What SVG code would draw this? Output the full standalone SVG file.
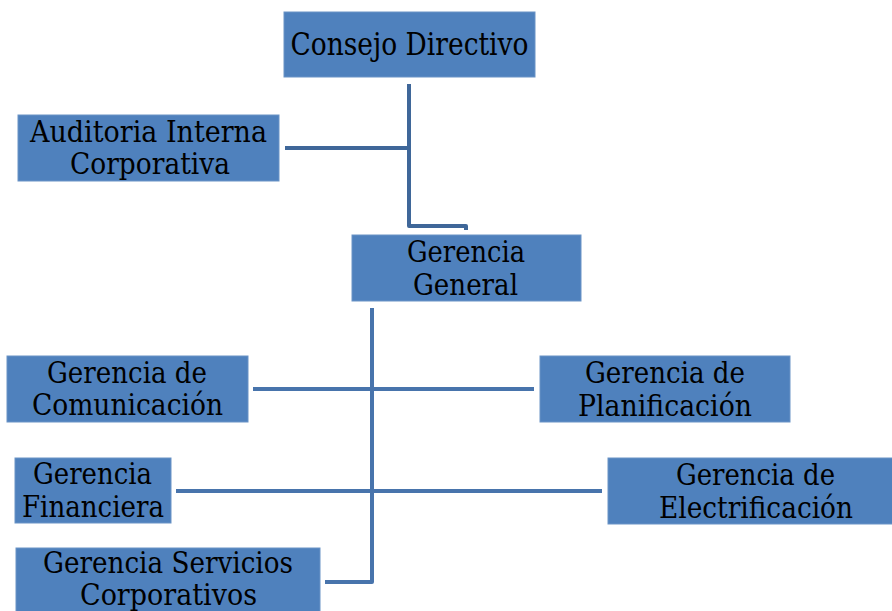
<svg xmlns="http://www.w3.org/2000/svg" width="892" height="611" viewBox="0 0 892 611">
<style>
.box{fill:#4F81BD;stroke:#6A93C6;stroke-width:1}
.t{font-family:"DejaVu Serif Condensed","DejaVu Serif",serif;font-size:30px;fill:#000;text-anchor:middle}
.big{font-size:32px}
.c1{fill:none;stroke:#3F6799;stroke-width:4;stroke-linejoin:round}
.c2{fill:none;stroke:#4874AC;stroke-width:4;stroke-linejoin:round}
</style>
<rect width="892" height="611" fill="#fff"/>
<g id="connectors">
<path class="c1" d="M409,84 V226 H466 V230"/>
<path class="c1" d="M285,148 H409"/>
<path class="c2" d="M372,308 V582 H325"/>
<path class="c2" d="M253,389 H534"/>
<path class="c2" d="M176,491 H602"/>
</g>
<g id="consejo">
<rect class="box" x="284" y="12" width="251" height="65"/>
<text class="t big" x="409.5" y="55" textLength="238" lengthAdjust="spacingAndGlyphs">Consejo Directivo</text>
</g>
<g id="auditoria">
<rect class="box" x="18" y="115" width="261" height="66"/>
<text class="t" x="148.5" y="142" textLength="237" lengthAdjust="spacingAndGlyphs">Auditoria Interna</text>
<text class="t" x="150" y="174" textLength="160" lengthAdjust="spacingAndGlyphs">Corporativa</text>
</g>
<g id="general">
<rect class="box" x="352" y="235" width="229" height="66"/>
<text class="t" x="466" y="262" textLength="118" lengthAdjust="spacingAndGlyphs">Gerencia</text>
<text class="t" x="465.5" y="295" textLength="105" lengthAdjust="spacingAndGlyphs">General</text>
</g>
<g id="comunicacion">
<rect class="box" x="7" y="356" width="241" height="66"/>
<text class="t" x="127" y="383" textLength="160" lengthAdjust="spacingAndGlyphs">Gerencia de</text>
<text class="t" x="127.5" y="415" textLength="191" lengthAdjust="spacingAndGlyphs">Comunicación</text>
</g>
<g id="planificacion">
<rect class="box" x="540" y="356" width="250" height="66"/>
<text class="t" x="665" y="383" textLength="160" lengthAdjust="spacingAndGlyphs">Gerencia de</text>
<text class="t" x="665" y="416" textLength="174" lengthAdjust="spacingAndGlyphs">Planificación</text>
</g>
<g id="financiera">
<rect class="box" x="15" y="458" width="156" height="65"/>
<text class="t" x="92.5" y="484" textLength="119" lengthAdjust="spacingAndGlyphs">Gerencia</text>
<text class="t" x="93" y="517" textLength="142" lengthAdjust="spacingAndGlyphs">Financiera</text>
</g>
<g id="electrificacion">
<rect class="box" x="608" y="458" width="296" height="66"/>
<text class="t" x="755.5" y="485" textLength="159" lengthAdjust="spacingAndGlyphs">Gerencia de</text>
<text class="t" x="756" y="518" textLength="194" lengthAdjust="spacingAndGlyphs">Electrificación</text>
</g>
<g id="servicios">
<rect class="box" x="16" y="548" width="304" height="70"/>
<text class="t" x="168" y="573" textLength="250" lengthAdjust="spacingAndGlyphs">Gerencia Servicios</text>
<text class="t" x="168.5" y="605" textLength="177" lengthAdjust="spacingAndGlyphs">Corporativos</text>
</g>
</svg>
